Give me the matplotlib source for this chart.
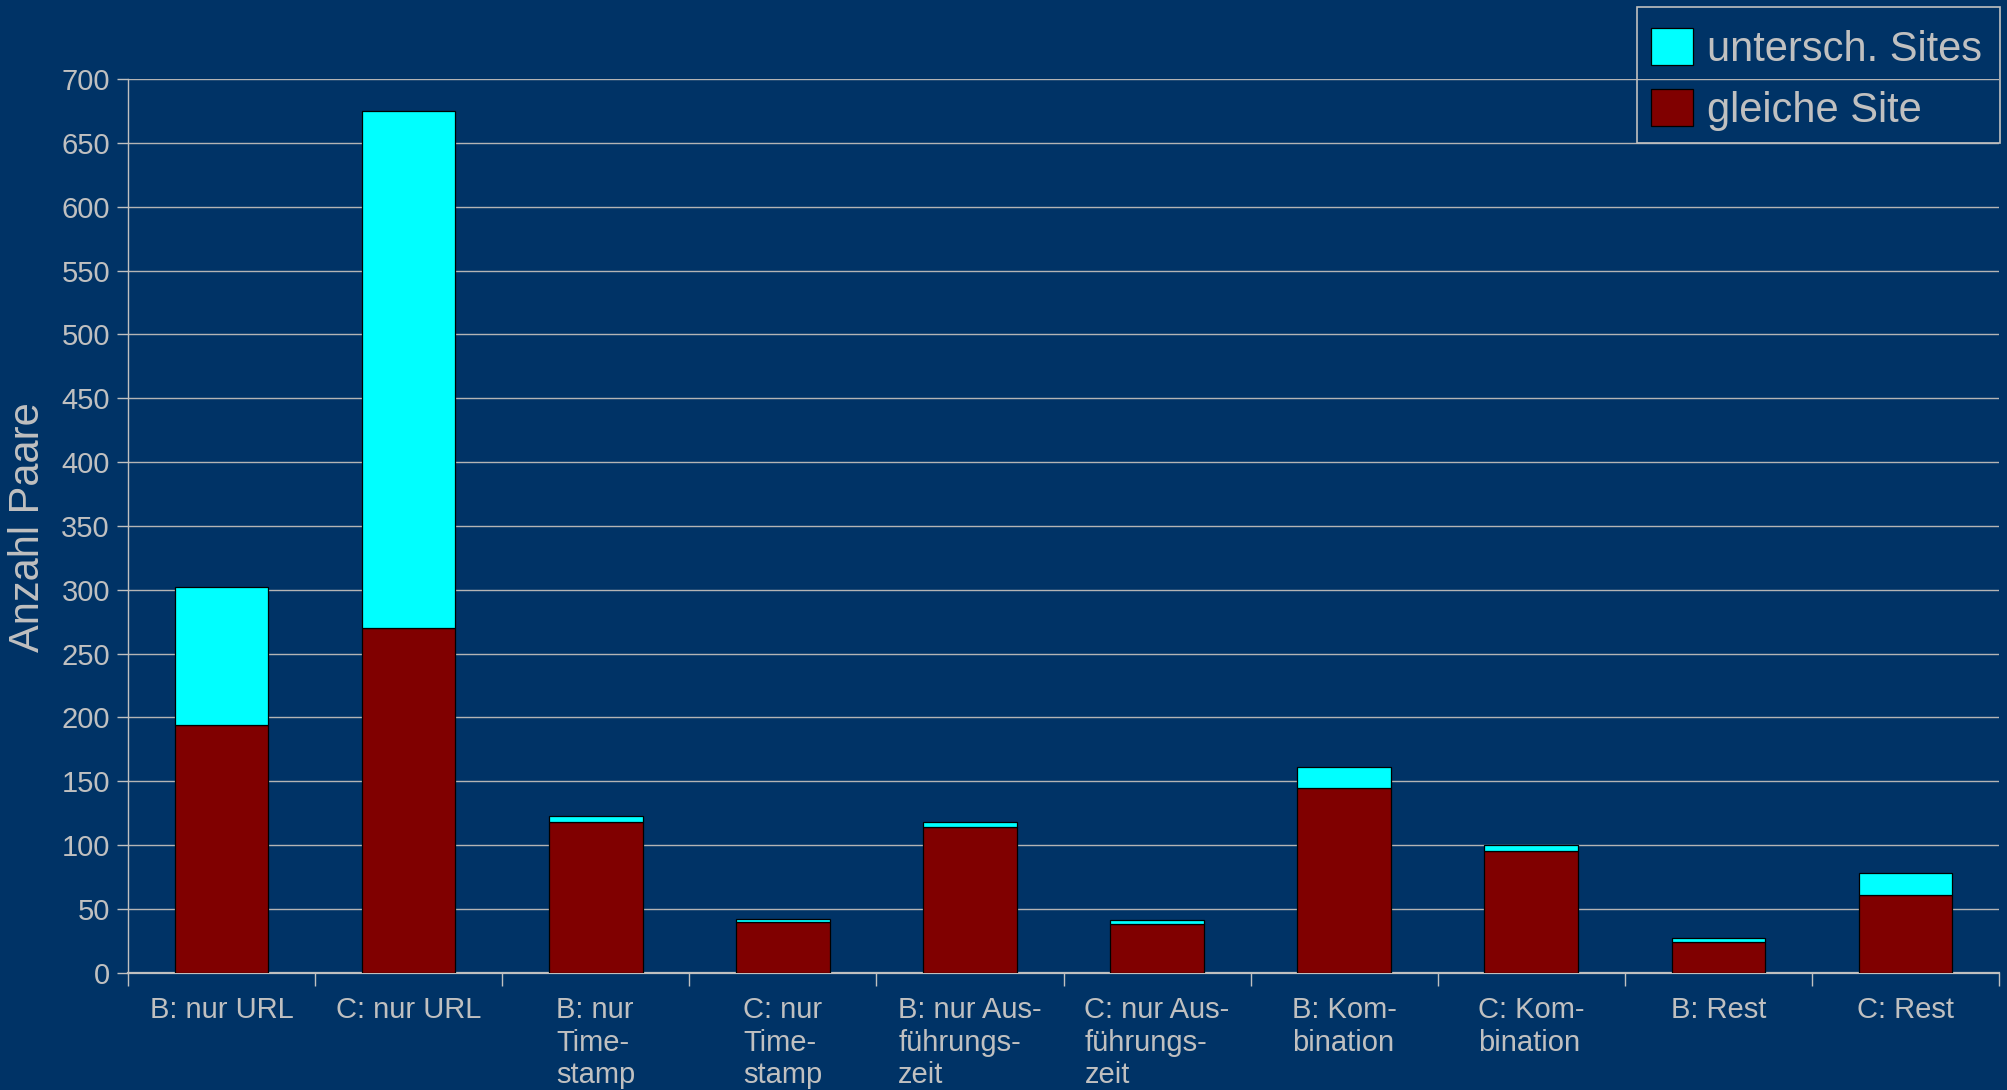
import numpy as np
import matplotlib
matplotlib.use("Agg")
import matplotlib.pyplot as plt
from matplotlib.patches import Rectangle

# pair counts per detection method, split into same-site / different-site pairs
categories = ["B: nur URL", "C: nur URL", "B: nur\nTime-\nstamp", "C: nur\nTime-\nstamp",
              "B: nur Aus-\nführungs-\nzeit", "C: nur Aus-\nführungs-\nzeit",
              "B: Kom-\nbination", "C: Kom-\nbination", "B: Rest", "C: Rest"]
gleiche_site = [194, 270, 118, 40, 114, 38, 145, 95, 24, 61]
untersch_sites = [108, 405, 5, 2, 4, 3, 16, 5, 3, 17]
yticks = list(range(0, 701, 50))

bg = "#003366"
fg = "#C0C0C0"
plt.rcParams['font.family'] = ['Liberation Sans', 'DejaVu Sans']

W, H = 2007, 1090
fig = plt.figure(figsize=(W / 100, H / 100), dpi=100)
fig.patch.set_facecolor(bg)
ax = fig.add_axes([0.0638, 0.1076, 0.9322, 0.8199])
ax.set_facecolor(bg)

x = np.arange(len(categories))
b_red = ax.bar(x, gleiche_site, width=0.5, color="#800000", edgecolor="black",
               linewidth=0.9, zorder=3, label="gleiche Site")
b_cyan = ax.bar(x, untersch_sites, width=0.5, bottom=gleiche_site, color="#00FFFF",
                edgecolor="black", linewidth=0.9, zorder=3, label="untersch. Sites")

ax.set_xlim(-0.5, len(categories) - 0.5)
ax.set_ylim(0, 700)
ax.set_yticks(yticks)
ax.set_yticklabels([str(v) for v in yticks])
ax.yaxis.grid(True, color="#B4B4B4", linewidth=1.0, zorder=0)
ax.set_axisbelow(True)

ax.set_xticks(x)
ax.set_xticklabels(categories, multialignment="left", linespacing=1.2)
ax.set_xticks(np.arange(-0.5, len(categories), 1.0), minor=True)
ax.tick_params(axis="x", which="major", length=0, pad=17, labelsize=21, labelcolor=fg)
ax.tick_params(axis="x", which="minor", length=9, width=1, color=fg, direction="out")
ax.tick_params(axis="y", length=8, width=1, color=fg, pad=5, labelsize=21, labelcolor=fg)

for side in ["top", "right"]:
    ax.spines[side].set_visible(False)
ax.spines["left"].set_color(fg)
ax.spines["bottom"].set_color(fg)
ax.spines["bottom"].set_linewidth(1.6)
ax.spines["left"].set_linewidth(1.0)

fig.text(28 / W, 1 - 527 / H, "Anzahl Paare", rotation=90, ha="center", va="center",
         fontsize=30, color=fg)

# legend entries without frame, frame drawn separately
leg = fig.legend(handles=[b_cyan, b_red], labels=["untersch. Sites", "gleiche Site"],
                 loc="upper left", bbox_to_anchor=(1651 / W, 1 - 28 / H), fontsize=30,
                 handlelength=1.0, handleheight=1.0, handletextpad=0.35,
                 labelspacing=0.45, borderpad=0, borderaxespad=0, frameon=False)
for t in leg.get_texts():
    t.set_color(fg)
fig.patches.append(Rectangle((1637 / W, 1 - 143 / H), 363 / W, 136 / H,
                             transform=fig.transFigure, facecolor="none",
                             edgecolor=fg, linewidth=1.2))

fig.savefig("out.png", dpi=100, facecolor=bg)
